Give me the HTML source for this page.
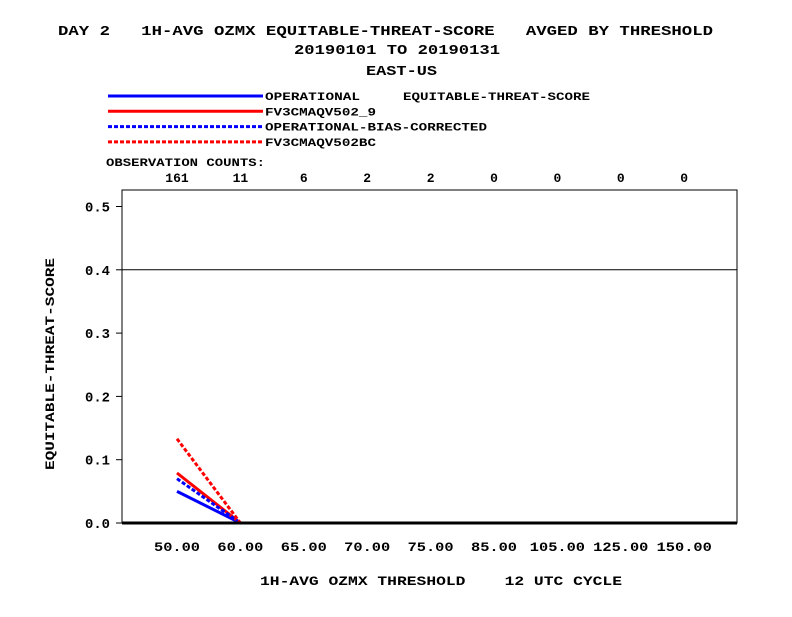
<!DOCTYPE html>
<html><head><meta charset="utf-8"><style>
body{margin:0;background:#fff;}
svg text{font-family:"Liberation Mono",monospace;font-weight:bold;fill:#000;white-space:pre;}
</style></head><body>
<svg width="792" height="612" xmlns="http://www.w3.org/2000/svg" xml:space="preserve">
<g font-size="14">
<text x="58" y="35" textLength="655" lengthAdjust="spacingAndGlyphs">DAY 2   1H-AVG OZMX EQUITABLE-THREAT-SCORE   AVGED BY THRESHOLD</text>
<text x="294" y="54" textLength="206" lengthAdjust="spacingAndGlyphs">20190101 TO 20190131</text>
<text x="366" y="75" textLength="71" lengthAdjust="spacingAndGlyphs">EAST-US</text>
</g>
<g id="legend" font-size="11"></g>
<text x="106" y="166" font-size="11" textLength="159" lengthAdjust="spacingAndGlyphs">OBSERVATION COUNTS:</text>
<g id="counts" font-size="13"></g>
<rect x="122" y="190" width="615" height="333" fill="none" stroke="#000" stroke-width="1"/>
<g id="yaxis" font-size="14"></g>
<g id="xaxis" font-size="13"></g>
<g id="series"></g>
<line x1="122" y1="523" x2="737" y2="523" stroke="#000" stroke-width="3"/>
<text x="54" y="470" font-size="13" textLength="212" lengthAdjust="spacingAndGlyphs" transform="rotate(-90 54 470)">EQUITABLE-THREAT-SCORE</text>
<text x="260" y="585" font-size="13" textLength="362" lengthAdjust="spacingAndGlyphs">1H-AVG OZMX THRESHOLD    12 UTC CYCLE</text>
</svg>
<script>
const categories=["50.00","60.00","65.00","70.00","75.00","85.00","105.00","125.00","150.00"];
const counts=[161,11,6,2,2,0,0,0,0];
const yTicks=[0.0,0.1,0.2,0.3,0.4,0.5];
const seriesNames=["OPERATIONAL","FV3CMAQV502_9","OPERATIONAL-BIAS-CORRECTED","FV3CMAQV502BC"];
const opValues=[0.050,0.0];
const fv3Values=[0.079,0.0];
const opbcValues=[0.070,0.0];
const fv3bcValues=[0.133,0.0];
const refLine=0.4;
const NS="http://www.w3.org/2000/svg";
const xPos=i=>177+i*63.4;
const yPos=v=>523-v*633;
function mk(tag,attrs,parent){const e=document.createElementNS(NS,tag);for(const k in attrs)e.setAttribute(k,attrs[k]);parent.appendChild(e);return e;}
const yax=document.getElementById('yaxis');
yTicks.forEach(v=>{
 const l=mk('line',{x1:116,x2:122,y1:yPos(v),y2:yPos(v),stroke:'#000'},yax);
 
 
 const t=mk('text',{x:85,y:yPos(v)+5,textLength:25,lengthAdjust:'spacingAndGlyphs'},yax);t.textContent=v.toFixed(1);
 
 
});
const rl=mk('line',{x1:122,x2:737,y1:yPos(refLine),y2:yPos(refLine),stroke:'#000'},yax);


const xax=document.getElementById('xaxis');
categories.forEach((c,i)=>{
 const w=c.length*9.2;
 const t=mk('text',{x:xPos(i)-w/2,y:551,textLength:w,lengthAdjust:'spacingAndGlyphs'},xax);t.textContent=c;
 
 
});
const cg=document.getElementById('counts');
counts.forEach((c,i)=>{
 const t=mk('text',{x:xPos(i),y:182,'text-anchor':'middle'},cg);t.textContent=c;
 
 
});
const styles=[{c:'#0000ff',d:null},{c:'#ff0000',d:null},{c:'#0000ff',d:'4,2'},{c:'#ff0000',d:'4,2'}];
const legendWidths=[95,111,222,111];
const allVals=[opValues,fv3Values,opbcValues,fv3bcValues];
const lg=document.getElementById('legend');
seriesNames.forEach((n,i)=>{
 const y=96+i*15.3;
 const l=mk('line',{x1:108,x2:263,y1:y,y2:y,stroke:styles[i].c,'stroke-width':3},lg);
 if(styles[i].d)l.setAttribute('stroke-dasharray',styles[i].d);
 
 
 const t=mk('text',{x:265,y:y+4,textLength:legendWidths[i],lengthAdjust:'spacingAndGlyphs'},lg);t.textContent=n;
 
 
});
const et=mk('text',{x:403,y:100,textLength:187,lengthAdjust:'spacingAndGlyphs'},lg);et.textContent='EQUITABLE-THREAT-SCORE';


const sg=document.getElementById('series');
allVals.forEach((vals,i)=>{
 const pts=vals.map((v,j)=>xPos(j)+','+yPos(v)).join(' ');
 const p=mk('polyline',{points:pts,fill:'none',stroke:styles[i].c,'stroke-width':3},sg);
 if(styles[i].d)p.setAttribute('stroke-dasharray',styles[i].d);
 
 
});
</script>
</body></html>
